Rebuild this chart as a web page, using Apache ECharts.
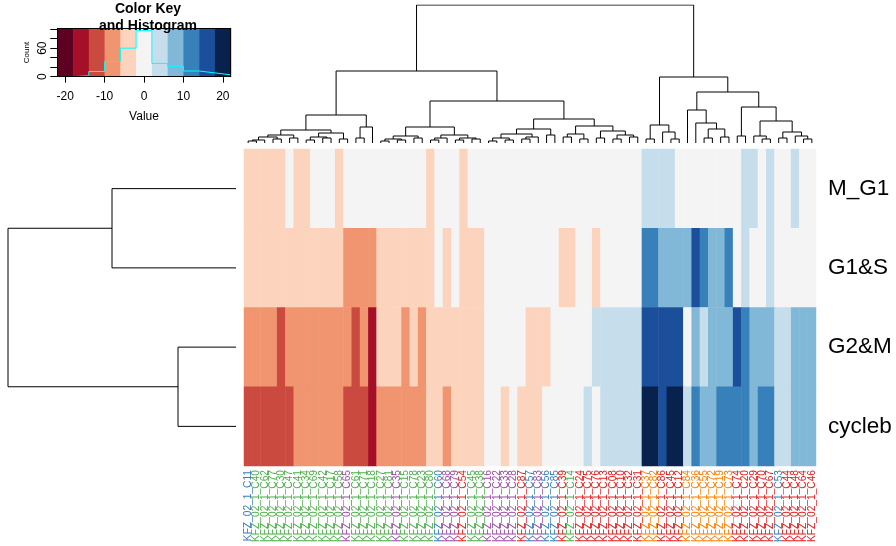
<!DOCTYPE html>
<html><head><meta charset="utf-8">
<script src="https://cdn.jsdelivr.net/npm/echarts@6/dist/echarts.min.js"></script>
<style>html,body{margin:0;padding:0;background:#fff}#c{width:896px;height:546px}</style>
</head><body><div id="c"></div>
<script>
// ---------- data ----------
const rowNames = ['M_G1', 'G1&S', 'G2&M', 'cycleb'];
const colIds = ['C11','C40','C62','C77','C30','C47','C41','C34','C69','C42',
  'C17','C58','C65','C61','C71','C18','C27','C81','C35','C15',
  'C78','C23','C80','C60','C68','C79','C54','C45','C38','C16',
  'C22','C33','C28','C87','C57','C83','C56','C85','C39','C14',
  'C24','C75','C76','C13','C08','C10','C32','C31','C37','C82',
  'C86','C45','C12','C84','C36','C55','C72','C19','C73','C74',
  'C20','C29','C70','C67','C53','C44','C48','C64','C46'];
const colGroup = ['b','g','g','g','g','g','g','g','g','g',
  'g','g','p','g','g','g','g','g','p','g',
  'g','g','g','b','p','p','r','g','g','p',
  'p','p','p','r','b','p','b','b','r','g',
  'r','r','r','r','r','r','r','r','o','o',
  'r','r','r','o','o','o','o','o','o','r',
  'r','r','r','r','b','r','r','r','r'];
const valM_G1 = [-4,-4,-4,-4,-4,0,-4,-4,0,0,
  0,-4,0,0,0,0,0,0,0,0,
  0,0,-4,0,0,0,-4,0,0,0,
  0,0,0,0,0,0,0,0,0,0,
  0,0,0,0,0,0,0,0,4,4,
  4,4,0,0,0,0,0,0,0,0,
  4,4,0,4,0,0,4,0,0];
const valG1S = [-4,-4,-4,-4,-4,-4,-4,-4,-4,-4,
  -4,-4,-8,-8,-8,-8,-4,-4,-4,-4,
  -4,-4,-4,0,-4,0,-4,-4,-4,0,
  0,0,0,0,0,0,0,0,-4,-4,
  0,0,-4,0,0,0,0,0,12,12,
  8,8,8,8,16,12,8,8,12,0,
  4,0,0,4,0,0,0,0,0];
const valG2M = [-8,-8,-8,-8,-12,-8,-8,-8,-8,-8,
  -8,-8,-8,-12,-8,-16,-4,-4,-4,-8,
  -4,-8,-4,-4,-4,-4,-4,-4,-4,0,
  0,0,0,0,-4,-4,-4,0,0,0,
  0,0,4,4,4,4,4,4,16,16,
  16,16,16,0,8,4,8,8,8,16,
  12,8,8,8,4,4,8,8,8];
const valCycleb = [-12,-12,-12,-12,-12,-12,-8,-8,-8,-8,
  -8,-8,-12,-12,-12,-16,-8,-8,-8,-8,
  -8,-8,-4,-4,-8,-4,-4,-4,-4,0,
  0,-4,0,-4,-4,-4,0,0,0,0,
  0,4,0,4,4,4,4,4,20,20,
  16,20,20,4,12,8,8,12,12,12,
  12,8,12,12,4,4,8,8,8];
const colorBreaks = [-22,-18,-14,-10,-6,-2,2,6,10,14,18,22];
const binColors = ['#5E0021','#A50F27','#CB4A40','#F0956F','#FCD3BC','#F4F4F4',
  '#C6DEEC','#82B8D7','#3780B9','#1B4F9B','#08224D'];
const keyTicks = [-20,-10,0,10,20];
const countTicks = [0,20,40,60,80,100];
const countLabels = [0,60];
// dendrograms: [height, left, right]; leaves = column number / row index
const colTree = [138,
  [72,
    [28,
      [13,
        [8, [6, [3, [2,1,2], 3], [4,4,5]], [5,6,7]],
        [10, [6, [3,8,9], [5,10,11]], [4,12,13]]],
      [16, [5,14,15], 16]],
    [42,
      [16,
        [7, [4, [2,17,18], [3,19,20]], [5,21,22]],
        [8, [5, [3,23,24], 25], [5, [3,26,27], [4,28,29]]]],
      [24,
        [14, [9, [5, [2,30,31], [3,32,33]], [6, [4,34,35], 36]], [8,37,38]],
        [17, [9, [6,39,40], [4,41,42]], [12, [5,43,44], [8, [4,45,46], [6,47,48]]]]]]],
  [66,
    [18, [4,49,50], [11, 51, [4,52,53]]],
    [51,
      [33, 54, [20, 55, [14, [5,56,57], [6,58,59]]]],
      [36, [7,60,61], [22, [7, 62, [4,63,64]], [11, [5,65,66], [7, 67, [4,68,69]]]]]]]];
const rowTree = [228, [124, 0, 1], [58, 2, 3]];

// ---------- build ----------
const rows = [valM_G1, valG1S, valG2M, valCycleb];
const heatData = [];
rows.forEach((r, ri) => r.forEach((v, ci) => heatData.push([ci, ri, v])));

function layout(node) {
  if (typeof node === 'number') return {pos: node, h: 0, segs: []};
  const a = layout(node[1]), b = layout(node[2]), h = node[0];
  return {pos: (a.pos + b.pos) / 2, h: h,
    segs: a.segs.concat(b.segs, [[[a.pos, a.h], [a.pos, h], [b.pos, h], [b.pos, b.h]]])};
}
const colSegs = layout(colTree).segs.map(s => ({coords: s}));
const rowSegs = layout(rowTree).segs.map(s => ({coords: s.map(p => [p[1], p[0]])}));

const allVals = [].concat(...rows);
const counts = colorBreaks.slice(0, -1).map((lo, i) =>
  allVals.filter(v => v >= lo && v < colorBreaks[i + 1]).length);
const countMax = Math.max(...counts) * 1.05;
const histLine = colorBreaks.map((b, i) => [b, counts[Math.min(i, counts.length - 1)]]);
const keyBins = colorBreaks.slice(0, -1).map((lo, i) => [lo, colorBreaks[i + 1]]);

const groupColors = {b:'#377EB8', g:'#4DAF4A', p:'#984EA3', r:'#E41A1C', o:'#FF7F00'};
const FF = 'Liberation Sans, Arial, sans-serif';
const rich = {};
Object.keys(groupColors).forEach(k => rich[k] = {color: groupColors[k], fontSize: 10.2, fontFamily: FF});

const chart = echarts.init(document.getElementById('c'), null, {renderer: 'canvas'});
const hidden = {show: false};
const frameLine = {show: true, onZero: false, lineStyle: {color: '#000', width: 1}};
chart.setOption({
  animation: false,
  backgroundColor: '#fff',
  textStyle: {fontFamily: FF},
  title: {text: 'Color Key\nand Histogram', left: 143, top: -4, textAlign: 'center',
    textStyle: {fontSize: 14, fontWeight: 'bold', lineHeight: 17, color: '#000', fontFamily: FF}},
  grid: [
    {left: 244, top: 149, width: 572, height: 317, outerBoundsMode: 'none'},
    {left: 244, top: 5, width: 572, height: 138, outerBoundsMode: 'none'},
    {left: 8, top: 149, width: 228, height: 317, outerBoundsMode: 'none'},
    {left: 57.3, top: 28.3, width: 173.4, height: 48.4, outerBoundsMode: 'none'}
  ],
  xAxis: [
    {type: 'category', gridIndex: 0, data: colIds.map(c => 'KFZ_02_1_' + c),
      axisLine: hidden, axisTick: hidden, splitLine: hidden,
      axisLabel: {interval: 0, rotate: 90, margin: 4, fontSize: 10.2, fontFamily: FF,
        formatter: (v, i) => '{' + colGroup[i] + '|' + v + '}', rich: rich}},
    {type: 'value', gridIndex: 1, min: 0.5, max: 69.5, show: false},
    {type: 'value', gridIndex: 2, min: 0, max: 228, inverse: true, show: false},
    {type: 'value', gridIndex: 3, min: -22, max: 22, position: 'bottom', z: 5,
      name: 'Value', nameLocation: 'middle', nameGap: 34,
      nameTextStyle: {fontSize: 12, color: '#000', fontFamily: FF},
      axisLine: frameLine,
      axisTick: {show: true, length: 6, customValues: keyTicks, lineStyle: {color: '#000'}},
      axisLabel: {customValues: keyTicks, margin: 14, fontSize: 12, color: '#000', fontFamily: FF},
      splitLine: hidden},
    {type: 'value', gridIndex: 3, min: -22, max: 22, position: 'top', z: 5,
      axisLine: frameLine, axisTick: hidden, axisLabel: hidden, splitLine: hidden}
  ],
  yAxis: [
    {type: 'category', gridIndex: 0, data: rowNames, inverse: true, position: 'right',
      axisLine: hidden, axisTick: hidden, splitLine: hidden,
      axisLabel: {margin: 12, fontSize: 22.5, color: '#000', fontFamily: FF}},
    {type: 'value', gridIndex: 1, min: 0, max: 138, show: false},
    {type: 'value', gridIndex: 2, min: -0.5, max: 3.5, inverse: true, show: false},
    {type: 'value', gridIndex: 3, min: 0, max: countMax, position: 'left', z: 5,
      name: 'Count', nameLocation: 'middle', nameGap: 27,
      nameTextStyle: {fontSize: 8, color: '#000', fontFamily: FF},
      axisLine: frameLine,
      axisTick: {show: true, length: 7, customValues: countTicks, lineStyle: {color: '#000'}},
      axisLabel: {customValues: countLabels, rotate: 90, margin: 9, fontSize: 12, color: '#000', fontFamily: FF},
      splitLine: hidden},
    {type: 'value', gridIndex: 3, min: 0, max: countMax, position: 'right', z: 5,
      axisLine: frameLine, axisTick: hidden, axisLabel: hidden, splitLine: hidden}
  ],
  visualMap: {type: 'piecewise', show: false, seriesIndex: 0, dimension: 2,
    pieces: binColors.map((c, i) => ({gte: colorBreaks[i], lt: colorBreaks[i + 1], color: c}))},
  series: [
    {type: 'heatmap', xAxisIndex: 0, yAxisIndex: 0, data: heatData, progressive: 0,
      itemStyle: {borderWidth: 0}, emphasis: {disabled: true}, silent: true},
    {type: 'lines', coordinateSystem: 'cartesian2d', xAxisIndex: 1, yAxisIndex: 1,
      polyline: true, data: colSegs, silent: true,
      lineStyle: {color: '#000', width: 1, opacity: 1}},
    {type: 'lines', coordinateSystem: 'cartesian2d', xAxisIndex: 2, yAxisIndex: 2,
      polyline: true, data: rowSegs, silent: true,
      lineStyle: {color: '#000', width: 1, opacity: 1}},
    {type: 'custom', xAxisIndex: 3, yAxisIndex: 3, data: keyBins, silent: true, z: 1,
      renderItem: (params, api) => {
        const p0 = api.coord([api.value(0), 0]);
        const p1 = api.coord([api.value(1), countMax]);
        return {type: 'rect', shape: {x: p0[0], y: p1[1], width: p1[0] - p0[0] + 0.5, height: p0[1] - p1[1]},
          style: {fill: binColors[params.dataIndex]}};
      }},
    {type: 'line', xAxisIndex: 3, yAxisIndex: 3, data: histLine, step: 'end', symbol: 'none',
      silent: true, z: 3, lineStyle: {color: '#00FFFF', width: 1}}
  ]
});
</script>
</body></html>
